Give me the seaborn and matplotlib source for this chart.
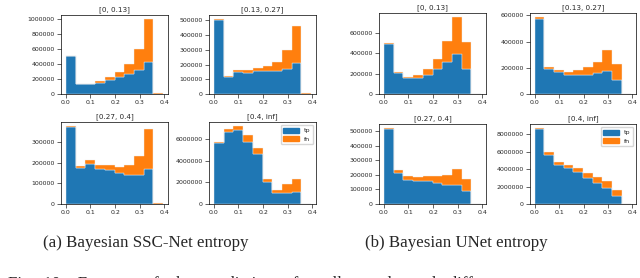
import numpy as np
import matplotlib.pyplot as plt
import pandas as pd
import seaborn as sns
from matplotlib.patches import Patch

# entropy bins (10 bins)
bin_edges = list(np.linspace(0, 0.395, 11))
bin_mid = [(a + b) / 2 for a, b in zip(bin_edges[:-1], bin_edges[1:])]

ranges = ["[0, 0.13]", "[0.13, 0.27]", "[0.27, 0.4]", "[0.4, inf]"]

# Bayesian SSC-Net: tp / fn counts per bin
ssc_tp_1 = [506000, 130000, 132000, 153000, 183000, 230000, 268000, 323000, 430000, 0]
ssc_fn_1 = [4000, 10000, 8000, 21000, 42000, 68000, 128000, 277000, 574000, 13000]
ssc_tp_2 = [500000, 113000, 150000, 141000, 154000, 154000, 154000, 172000, 209000, 0]
ssc_fn_2 = [11000, 7000, 13000, 22000, 22000, 37000, 66000, 130000, 254000, 8000]
ssc_tp_3 = [371000, 176000, 194000, 169000, 163000, 150000, 140000, 140000, 169000, 0]
ssc_fn_3 = [6000, 8000, 19000, 20000, 26000, 27000, 49000, 92000, 192000, 3000]
ssc_tp_4 = [5630000, 6600000, 6780000, 5750000, 4600000, 2000000, 1060000, 1060000, 1130000, 0]
ssc_fn_4 = [90000, 300000, 420000, 630000, 560000, 340000, 250000, 820000, 1210000, 0]

# Bayesian UNet: tp / fn counts per bin
unet_tp_1 = [488000, 209000, 160000, 157000, 189000, 241000, 315000, 392000, 241000, 0]
unet_fn_1 = [9000, 9000, 7000, 32000, 52000, 102000, 202000, 366000, 266000, 0]
unet_tp_2 = [575000, 194000, 167000, 147000, 147000, 147000, 157000, 177000, 110000, 0]
unet_fn_2 = [13000, 15000, 17000, 22000, 37000, 55000, 87000, 157000, 117000, 0]
unet_tp_3 = [511000, 214000, 167000, 158000, 158000, 144000, 133000, 133000, 88000, 0]
unet_fn_3 = [11000, 20000, 22000, 24000, 31000, 45000, 67000, 108000, 81000, 0]
unet_tp_4 = [8600000, 5600000, 4450000, 4110000, 3630000, 3030000, 2430000, 1870000, 930000, 0]
unet_fn_4 = [150000, 380000, 370000, 410000, 480000, 520000, 710000, 820000, 640000, 0]

ssc = [(ssc_tp_1, ssc_fn_1), (ssc_tp_2, ssc_fn_2), (ssc_tp_3, ssc_fn_3), (ssc_tp_4, ssc_fn_4)]
unet = [(unet_tp_1, unet_fn_1), (unet_tp_2, unet_fn_2), (unet_tp_3, unet_fn_3), (unet_tp_4, unet_fn_4)]

sns.set_style("ticks")
plt.rcParams['font.family'] = ['DejaVu Sans']
plt.rcParams['axes.linewidth'] = 0.5
plt.rcParams['xtick.major.width'] = 0.5
plt.rcParams['ytick.major.width'] = 0.5
plt.rcParams['xtick.major.size'] = 2.8
plt.rcParams['ytick.major.size'] = 2.8
plt.rcParams['xtick.major.pad'] = 1.6
plt.rcParams['ytick.major.pad'] = 1.8
plt.rcParams['axes.edgecolor'] = 'black'

colors = {"tp": "#1f77b4", "fn": "#ff7f0e"}
W, H = 640, 278
fig = plt.figure(figsize=(W / 100, H / 100), dpi=100)


def px_axes(x0, y0, x1, y1):
    return fig.add_axes([x0 / W, 1 - y1 / H, (x1 - x0) / W, (y1 - y0) / H])


# (left, top, right, bottom) in pixels for each panel
boxes_ssc = [(61, 15, 168, 94), (209, 15, 316, 94), (61, 122, 168, 204), (209, 122, 316, 204)]
boxes_unet = [(379, 13, 486, 94), (530, 13, 636, 94), (379, 124, 486, 204), (530, 124, 636, 204)]

for group, boxes in [(ssc, boxes_ssc), (unet, boxes_unet)]:
    for i, ((tp, fn), box) in enumerate(zip(group, boxes)):
        ax = px_axes(*box)
        df = pd.DataFrame({
            "entropy": bin_mid + bin_mid,
            "count": tp + fn,
            "kind": ["tp"] * 10 + ["fn"] * 10,
        })
        sns.histplot(data=df, x="entropy", weights="count", hue="kind",
                     hue_order=["fn", "tp"], palette=colors, multiple="stack",
                     bins=bin_edges, element="step", alpha=1, linewidth=0.3,
                     edgecolor="#eeeeee", legend=False, ax=ax)
        ax.set_xticks([0.0, 0.1, 0.2, 0.3, 0.4])
        ax.set_xlabel("")
        ax.set_ylabel("")
        ax.ticklabel_format(axis="y", style="plain")
        ax.tick_params(labelsize=4.5)
        ax.set_title(ranges[i], fontsize=5.2, pad=2.5)
        if i == 3:
            ax.legend(handles=[Patch(color=colors["tp"], label="tp"),
                               Patch(color=colors["fn"], label="fn")],
                      loc="upper right", fontsize=4.5, handlelength=2.5,
                      handleheight=0.9, borderpad=0.4, labelspacing=0.4,
                      frameon=True, fancybox=True)

fig.text(146 / W, 1 - 243 / H, "(a) Bayesian SSC-Net entropy", ha="center", va="center",
         family="Liberation Serif", fontsize=12.2)
fig.text(456 / W, 1 - 243 / H, "(b) Bayesian UNet entropy", ha="center", va="center",
         family="Liberation Serif", fontsize=12.2)
# next caption line, cut off by the bottom edge as in the source page
fig.text(8 / W, 1 - 288 / H,
         "Fig.  10:   Entropy   of   the   predictions   for   all   voxels   and   different",
         ha="left", va="baseline", family="Liberation Serif", fontsize=12.2)

fig.savefig("out.png", dpi=100)
